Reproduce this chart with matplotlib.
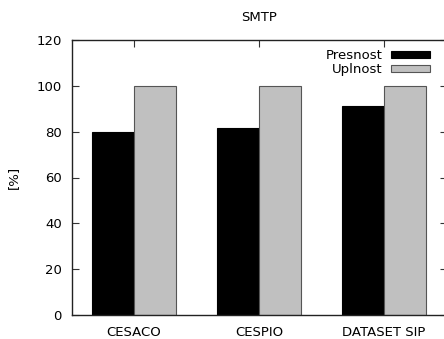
import numpy as np
import matplotlib
matplotlib.use("Agg")
import matplotlib.pyplot as plt

categories = ["CESACO", "CESPIO", "DATASET SIP"]
presnost = [80.0, 81.7, 91.0]
uplnost = [100.0, 100.0, 100.0]
yticks = [0, 20, 40, 60, 80, 100, 120]

plt.rcParams["font.family"] = "DejaVu Sans"
plt.rcParams["font.size"] = 9.5

W, H = 444, 339
fig = plt.figure(figsize=(W / 100, H / 100), dpi=100)
ax = fig.add_axes([71.5 / W, 1 - 315 / H, 375 / W, 275 / H])

x = np.arange(len(categories))
bw = 0.336
ax.bar(x - bw / 2, presnost, bw, color="black", edgecolor="black", linewidth=0.8,
       label="Presnost", zorder=2)
ax.bar(x + bw / 2, uplnost, bw, color="#c0c0c0", edgecolor="#555555", linewidth=0.8,
       label="Uplnost", zorder=2)

ax.set_xlim(-0.5, 2.5)
ax.set_ylim(0, 120)
ax.set_xticks(x)
ax.set_xticklabels(categories)
ax.set_yticks(yticks)
ax.tick_params(axis="both", direction="in", length=5, width=0.8, color="#333333",
               top=True, right=True, bottom=False)
ax.tick_params(axis="y", pad=7)
ax.tick_params(axis="x", pad=8)
for s in ax.spines.values():
    s.set_linewidth(1.0)
    s.set_color("#222222")

ax.set_ylabel("[%]", labelpad=12)
ax.set_title("SMTP", fontsize=9.5, pad=14)

ax.legend(loc="upper right", bbox_to_anchor=(361.5 / 375, 0.977), frameon=False,
          handlelength=3.0, handleheight=0.4, handletextpad=0.6, markerfirst=False,
          labelspacing=0.08, borderaxespad=0.0, borderpad=0.2)

fig.savefig("out.png", dpi=100)
